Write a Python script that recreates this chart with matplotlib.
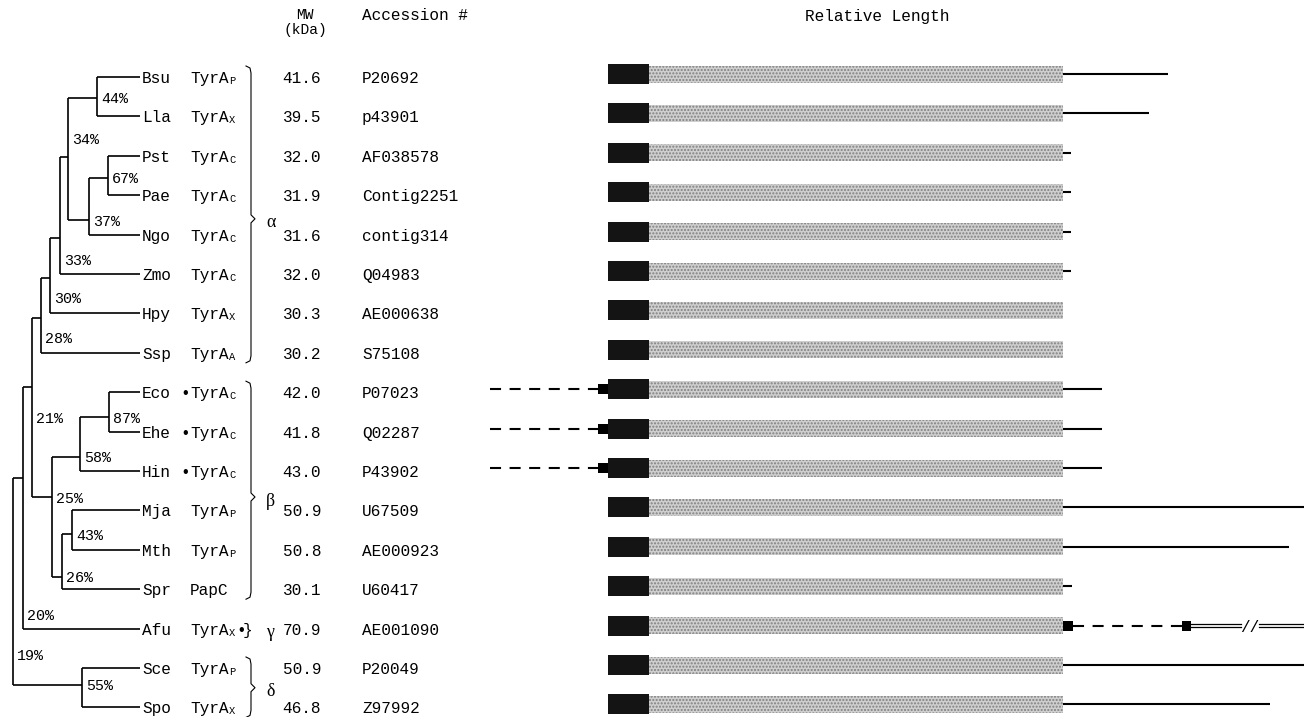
import matplotlib.pyplot as plt
from matplotlib.patches import Rectangle

# ---- data ----
species = ['Bsu', 'Lla', 'Pst', 'Pae', 'Ngo', 'Zmo', 'Hpy', 'Ssp',
           'Eco', 'Ehe', 'Hin', 'Mja', 'Mth', 'Spr', 'Afu', 'Sce', 'Spo']
enzyme = ['TyrA'] * 13 + ['PapC'] + ['TyrA'] * 3
enzyme_sub = ['P', 'X', 'C', 'C', 'C', 'C', 'X', 'A',
              'C', 'C', 'C', 'P', 'P', '', 'X', 'P', 'X']
bullet_before = ['Eco', 'Ehe', 'Hin']
mw = ['41.6', '39.5', '32.0', '31.9', '31.6', '32.0', '30.3', '30.2',
      '42.0', '41.8', '43.0', '50.9', '50.8', '30.1', '70.9', '50.9', '46.8']
accession = ['P20692', 'p43901', 'AF038578', 'Contig2251', 'contig314',
             'Q04983', 'AE000638', 'S75108', 'P07023', 'Q02287', 'P43902',
             'U67509', 'AE000923', 'U60417', 'AE001090', 'P20049', 'Z97992']

# relative lengths (pixel units of the scanned figure)
core_black = 41
core_grey = 414
c_ext = [105, 86, 8, 8, 8, 8, 0, 0, 39, 39, 39, 241, 226, 9, 0, 241, 207]
n_ext = [0, 0, 0, 0, 0, 0, 0, 0, 118, 118, 118, 0, 0, 0, 0, 0, 0]
afu_ext_kind = ['box', 'dash', 'box', 'double', 'break', 'double']
afu_ext_len = [10, 109, 9, 50, 18, 44]

# tree: node, child a, child b, depth, join row, bootstrap label, label row
tree = [
    ('n44', 'Bsu', 'Lla', 97, 0.53, '44%', 0.53),
    ('n67', 'Pst', 'Pae', 108, 2.56, '67%', 2.56),
    ('n37', 'n67', 'Ngo', 89, 3.63, '37%', 3.63),
    ('n34', 'n44', 'n37', 68, 2.03, '34%', 1.55),
    ('n33', 'n34', 'Zmo', 60, 4.09, '33%', 4.64),
    ('n30', 'n33', 'Hpy', 50, 5.10, '30%', 5.60),
    ('n28', 'n30', 'Ssp', 41, 6.12, '28%', 6.62),
    ('n87', 'Eco', 'Ehe', 109, 8.63, '87%', 8.63),
    ('n58', 'n87', 'Hin', 80, 9.64, '58%', 9.64),
    ('n43', 'Mja', 'Mth', 72, 11.6, '43%', 11.6),
    ('n26', 'n43', 'Spr', 62, 12.69, '26%', 12.69),
    ('n25', 'n58', 'n26', 52, 10.66, '25%', 10.66),
    ('n21', 'n28', 'n25', 32, 7.87, '21%', 8.63),
    ('n20', 'n21', 'Afu', 23, 10.18, '20%', 13.65),
    ('n55', 'Sce', 'Spo', 82, 15.43, '55%', 15.43),
    ('n19', 'n20', 'n55', 13, None, '19%', 14.67),
]

# groups: greek label, first row, last row, tip row
groups = [('α', 0, 7, 3.6), ('β', 8, 13, 10.66), ('δ', 15, 16, 15.5)]

MONO = 'Liberation Mono'
FS = 11.6

fig = plt.figure(figsize=(13.04, 7.17), dpi=100)
ax = fig.add_axes([0, 0, 1, 1])
ax.set_xlim(0, 1304)
ax.set_ylim(717, 0)
ax.axis('off')


def ry(r):
    return 77 + 39.4 * r


# headers
ax.text(305, 15, 'MW', family=MONO, fontsize=10.5, ha='center', va='center')
ax.text(305, 30, '(kDa)', family=MONO, fontsize=10.5, ha='center', va='center')
ax.text(362, 15, 'Accession #', family=MONO, fontsize=FS, ha='left', va='center')
ax.text(877, 16, 'Relative Length', family=MONO, fontsize=FS, ha='center', va='center')

# ---- tree ----
LEAF_X = 140
where = {}
for i, s in enumerate(species):
    where[s] = (LEAF_X, ry(i))

for name, a, b, x, join, lab, lab_row in tree:
    ya = where[a][1]
    yb = where[b][1]
    ax.plot([x, x], [ya, yb], color='k', lw=1.2, solid_capstyle='butt')
    for c in (a, b):
        cx, cy = where[c]
        ax.plot([x, cx], [cy, cy], color='k', lw=1.2, solid_capstyle='butt')
    if join is None:
        yj = (ya + yb) / 2
    else:
        yj = ry(join)
    where[name] = (x, yj)
    ax.text(x + 4, ry(lab_row), lab, family=MONO, fontsize=10.8,
            ha='left', va='center_baseline')

# leaf labels
for i, s in enumerate(species):
    y = ry(i)
    ax.text(142, y, s, family=MONO, fontsize=FS, ha='left', va='center_baseline')
    if s in bullet_before:
        ax.text(180, y, '•', family=MONO, fontsize=FS, ha='left', va='center_baseline')
    ax.text(190, y, enzyme[i], family=MONO, fontsize=FS, ha='left', va='center_baseline')
    if enzyme_sub[i]:
        ax.text(229, y + 3, enzyme_sub[i], family=MONO, fontsize=7.5,
                ha='left', va='center_baseline')
    ax.text(321, y, mw[i], family=MONO, fontsize=FS, ha='right', va='center_baseline')
    ax.text(362, y, accession[i], family=MONO, fontsize=FS, ha='left', va='center_baseline')

# Afu: trailing bullet and gamma brace
ia = species.index('Afu')
ax.text(236, ry(ia), '•', family=MONO, fontsize=FS, ha='left', va='center_baseline')
ax.text(243, ry(ia), '}', family=MONO, fontsize=FS, ha='left', va='center_baseline')
ax.text(266, ry(ia) + 2, 'γ', family='Liberation Serif', fontsize=13,
        ha='left', va='center_baseline')

# braces for groups
BX = 251
for g, r0, r1, rt in groups:
    y0 = ry(r0) - 11
    y1 = ry(r1) + 10
    yt = ry(rt)
    xs = [BX - 5, BX - 1, BX, BX, BX + 4, BX, BX, BX - 1, BX - 5]
    ys = [y0, y0 + 2, y0 + 7, yt - 4, yt, yt + 4, y1 - 7, y1 - 2, y1]
    ax.plot(xs, ys, color='k', lw=0.8)
    ax.text(266, yt + 2, g, family='Liberation Serif', fontsize=13,
            ha='left', va='center_baseline')

# ---- relative length bars ----
X0 = 608
for i in range(len(species)):
    y = ry(i) - 3
    ax.add_patch(Rectangle((X0, y - 10), core_black, 20, facecolor='#141414',
                           edgecolor='none'))
    ax.add_patch(Rectangle((X0 + core_black, y - 8.5), core_grey, 17,
                           facecolor='#cfcfcf', edgecolor='#808080', lw=0,
                           hatch='.....'))
    xe = X0 + core_black + core_grey
    if c_ext[i] > 0:
        ax.plot([xe, xe + c_ext[i]], [y, y], color='k', lw=1.5, solid_capstyle='butt')
    if n_ext[i] > 0:
        xs = X0 - n_ext[i]
        ax.plot([xs, X0 - 10], [y, y], color='k', lw=1.5, ls=(0, (5.3, 4.1)))
        ax.add_patch(Rectangle((X0 - 10, y - 5), 10, 10, facecolor='k', edgecolor='none'))

# Afu insertion
y = ry(ia) - 3
x = X0 + core_black + core_grey
for kind, ln in zip(afu_ext_kind, afu_ext_len):
    if kind == 'box':
        ax.add_patch(Rectangle((x, y - 5), ln, 10, facecolor='k', edgecolor='none'))
    elif kind == 'dash':
        ax.plot([x, x + ln], [y, y], color='k', lw=1.5, ls=(0, (5.3, 4.1)))
    elif kind == 'double':
        ax.plot([x, x + ln], [y - 1.6, y - 1.6], color='k', lw=0.9)
        ax.plot([x, x + ln], [y + 1.6, y + 1.6], color='k', lw=0.9)
    elif kind == 'break':
        ax.text(x + ln / 2, y, '//', family=MONO, fontsize=FS, ha='center',
                va='center_baseline')
    x += ln

fig.savefig('out.png', dpi=100)
